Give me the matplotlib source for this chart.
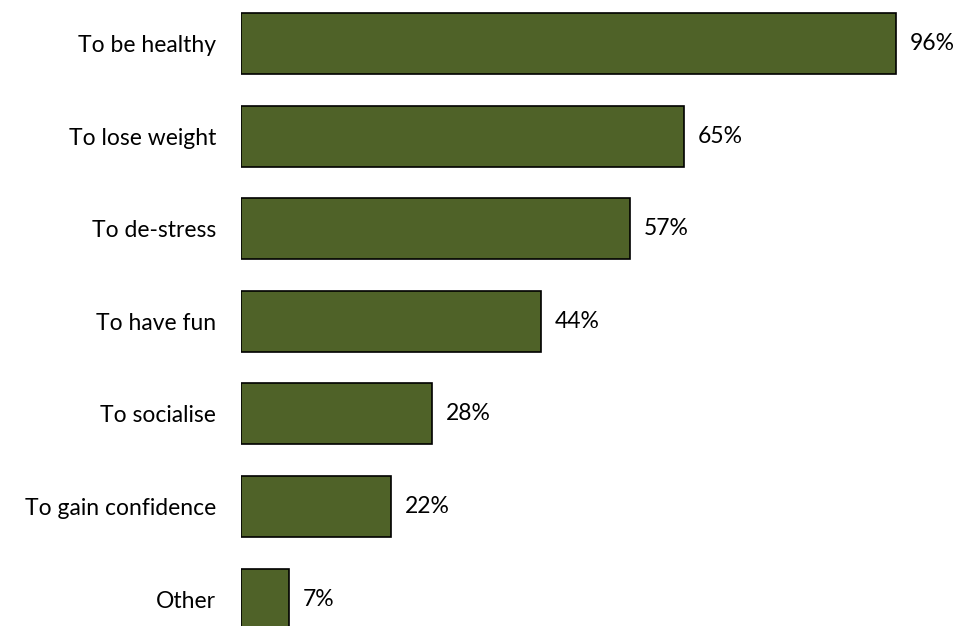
import matplotlib
matplotlib.use("Agg")
import matplotlib.pyplot as plt

plt.rcParams['font.family'] = ['Lato', 'DejaVu Sans']

# reasons, top to bottom
reasons = ["To be healthy", "To lose weight", "To de-stress", "To have fun",
           "To socialise", "To gain confidence", "Other"]
shares = [96, 65, 57, 44, 28, 22, 7]

fig = plt.figure(figsize=(9.61, 6.26), dpi=100)
ax = fig.add_axes([241 / 961, 0, 682 / 961, 1])

pos = list(range(len(reasons)))
ax.barh(pos, shares, height=0.66, color="#4f6228", edgecolor="black",
        linewidth=1.2)

for p, v in zip(pos, shares):
    ax.annotate(f"{v}%", (v, p), xytext=(10, 0), textcoords="offset points",
                ha="left", va="center", fontsize=16.5, annotation_clip=False)

ax.set_xlim(0, 100)
ax.set_ylim(6.29, -0.47)
ax.set_yticks(pos)
ax.set_yticklabels(reasons, fontsize=16.5)
ax.tick_params(axis="y", length=0, pad=18)
ax.set_xticks([])
for s in ax.spines.values():
    s.set_visible(False)

fig.savefig("out.png", dpi=100)
